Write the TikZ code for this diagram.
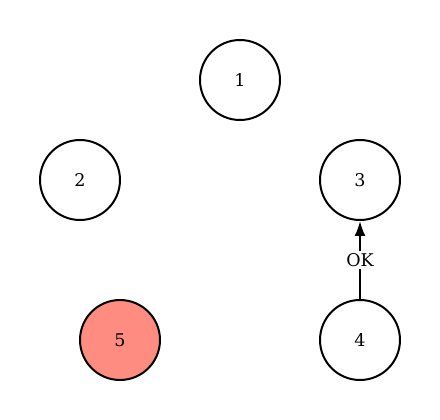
\documentclass[tikz,border=0pt]{standalone}
\usepackage{fontspec}
\setmainfont{DejaVu Serif}
\usetikzlibrary{arrows.meta}
\definecolor{salmonfill}{RGB}{255,140,128}
\begin{document}
\begin{tikzpicture}[x=1pt,y=-1pt,
  vtx/.style={circle,draw=black,line width=2pt,minimum size=80pt,inner sep=0pt,font=\fontsize{17.5}{20}\selectfont},
  hot/.style={fill=salmonfill},
  conn/.style={line width=2pt,-{Latex[length=15pt,width=11pt]}},
  lbl/.style={fill=white,inner sep=2pt,font=\fontsize{17.5}{20}\selectfont}]
\useasboundingbox (0,0) rectangle (440,420);
\node[vtx] (n1) at (240,80) {1};
\node[vtx] (n2) at (80,180) {2};
\node[vtx] (n3) at (360,180) {3};
\node[vtx] (n4) at (360,340) {4};
\node[vtx,hot] (n5) at (120,340) {5};
\draw[conn] (n4) -- node[lbl] {OK} (n3);
\end{tikzpicture}
\end{document}
